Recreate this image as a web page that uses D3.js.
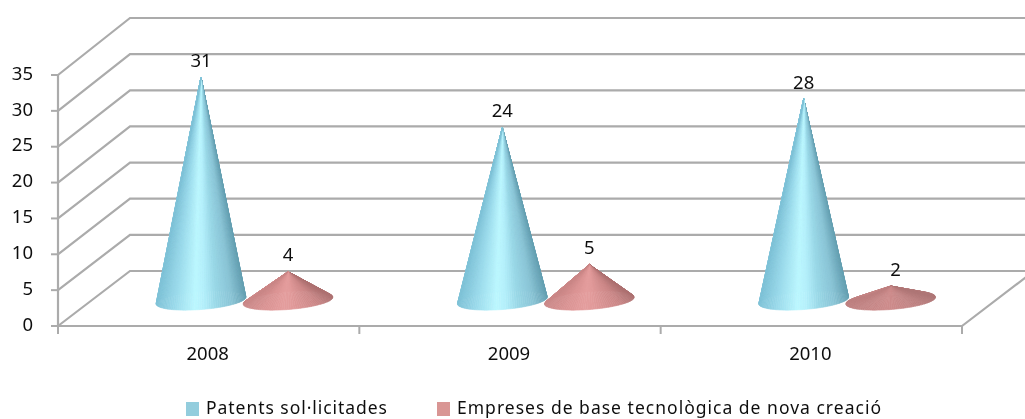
<!DOCTYPE html>
<html>
<head>
<meta charset="utf-8">
<script src="https://cdn.jsdelivr.net/npm/d3@7"></script>
<style>
html, body { margin: 0; padding: 0; background: #fff; }
svg { display: block; }
text { font-family: "Noto Sans", sans-serif; fill: #111; }
</style>
</head>
<body>
<script>
var categories = ["2008", "2009", "2010"];
var seriesNames = ["Patents sol·licitades", "Empreses de base tecnològica de nova creació"];
var patents = [31, 24, 28];
var empreses = [4, 5, 2];
var yTicks = [0, 5, 10, 15, 20, 25, 30, 35];

var width = 1025, height = 419;
var gridColor = "#ababab";

var svg = d3.select("body").append("svg")
    .attr("width", width)
    .attr("height", height);

svg.append("defs").append("filter").attr("id", "soft")
    .append("feGaussianBlur").attr("stdDeviation", 0.55);

var x0 = d3.scaleBand().domain(categories).range([58, 962]);
var x1 = d3.scaleBand().domain([0, 1]).range([99.5, 273.5]);
var y = d3.scaleLinear().domain([0, 35]).range([326, 75]);    // front edge
var yBack = d3.scaleLinear().domain([0, 35]).range([271, 18]); // back wall
var yCone = d3.scaleLinear().domain([0, 35]).range([300.5, 48.5]); // cones stand in the middle of the floor

// shading goes round the cone, s=0 left edge, s=1 right edge
var stops = [0, 0.2, 0.42, 0.52, 0.66, 0.84, 1];
var blueShade = d3.scaleLinear().domain(stops)
    .range(["#7fc2d7", "#9cdbeb", "#bcf7ff", "#b4f0fb", "#9ad8e7", "#8ac4d5", "#649fb1"]);
var redShade = d3.scaleLinear().domain(stops)
    .range(["#c98686", "#d99292", "#e49d9d", "#e29b9b", "#d89292", "#c98585", "#ac7070"]);
var redLowShade = d3.scaleLinear().domain(stops)
    .range(["#bd7f7f", "#c48585", "#cd8b8b", "#cc8a8a", "#c58686", "#bb7e7e", "#ae7676"]);

var root = svg.append("g").attr("filter", "url(#soft)");

// walls
var grid = root.append("g")
    .attr("fill", "none")
    .attr("stroke", gridColor)
    .attr("stroke-width", 2.2);

yTicks.forEach(function (t) {
    grid.append("path").attr("d", d3.line()([[58, y(t)], [130, yBack(t)], [1033, yBack(t)]]));
});
grid.append("path").attr("d", d3.line()([[58, y(0)], [962, y(0)], [1034, yBack(0)]]));
grid.append("path").attr("d", d3.line()([[58, y(35)], [58, y(0)]]));

// axes
yTicks.forEach(function (t) {
    root.append("line")
        .attr("x1", 51).attr("x2", 58)
        .attr("y1", y(t)).attr("y2", y(t))
        .attr("stroke", gridColor).attr("stroke-width", 2);
    root.append("text")
        .attr("x", 33).attr("y", y(t) - 2)
        .attr("dy", "0.36em")
        .attr("text-anchor", "end")
        .attr("font-size", 18.5)
        .text(t);
});

categories.concat(["end"]).forEach(function (c) {
    var px = c == "end" ? x0.range()[1] : x0(c);
    root.append("line")
        .attr("x1", px).attr("x2", px)
        .attr("y1", 326).attr("y2", 334)
        .attr("stroke", gridColor).attr("stroke-width", 2);
});
categories.forEach(function (c) {
    root.append("text")
        .attr("x", x0(c) + x0.bandwidth() / 2 - 1)
        .attr("y", 353)
        .attr("dy", "0.36em")
        .attr("text-anchor", "middle")
        .attr("font-size", 18.5)
        .text(c);
});

// cones: a fan of thin triangles from the apex round the tilted base
var rx = 45, ry = 9, tilt = -4.5 * Math.PI / 180;
var fanSteps = 120;

function basePoint(cx, t) {
    var ex = rx * Math.cos(t), ey = ry * Math.sin(t);
    return [cx + ex * Math.cos(tilt) - ey * Math.sin(tilt),
            yCone(0) + ex * Math.sin(tilt) + ey * Math.cos(tilt)];
}

function drawCone(g, cx, v, shade) {
    var apex = [cx, yCone(v)];
    // back half first (t from pi to 2pi is the upper edge), then the front
    var order = d3.range(fanSteps).map(function (i) { return Math.PI + i * 2 * Math.PI / fanSteps; });
    order.forEach(function (t) {
        var t2 = t + 2 * Math.PI / fanSteps;
        var s = (1 + Math.cos((t + t2) / 2)) / 2;
        var c = shade(s);
        g.append("path")
            .attr("d", d3.line()([apex, basePoint(cx, t), basePoint(cx, t2)]) + "Z")
            .attr("fill", c)
            .attr("stroke", c)
            .attr("stroke-width", 0.6);
    });
}

var series = [
    { values: patents, shade: function () { return blueShade; } },
    { values: empreses, shade: function (v) { return v < 3 ? redLowShade : redShade; } }
];

categories.forEach(function (c, i) {
    series.forEach(function (s, j) {
        var v = s.values[i];
        var cx = x0(c) + x1(j) + x1.bandwidth() / 2;
        drawCone(root.append("g"), cx, v, s.shade(v));
        root.append("text")
            .attr("x", cx + (v < 3 ? 5 : 0))
            .attr("y", yCone(v) - 17)
            .attr("dy", "0.36em")
            .attr("text-anchor", "middle")
            .attr("font-size", 18.5)
            .text(v);
    });
});

// legend
var legend = [
    { name: seriesNames[0], x: 186, color: "#93cddd", len: 181 },
    { name: seriesNames[1], x: 437, color: "#d99694", len: 424 }
];
legend.forEach(function (d) {
    root.append("rect")
        .attr("x", d.x).attr("y", 402)
        .attr("width", 13).attr("height", 14)
        .attr("fill", d.color);
    root.append("text")
        .attr("x", d.x + 20).attr("y", 408)
        .attr("dy", "0.36em")
        .attr("font-size", 17.5)
        .attr("textLength", d.len)
        .attr("lengthAdjust", "spacing")
        .text(d.name);
});
</script>
</body>
</html>
